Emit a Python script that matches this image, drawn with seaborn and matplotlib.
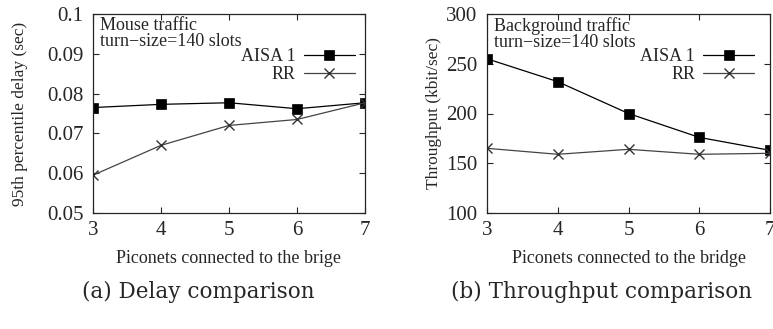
import matplotlib.pyplot as plt
import seaborn as sns

piconets = [3, 4, 5, 6, 7]
delay_aisa = [0.0765, 0.0773, 0.0777, 0.0762, 0.0777]
delay_rr = [0.0595, 0.0670, 0.0720, 0.0735, 0.0777]
thr_aisa = [255, 232, 200, 176, 163]
thr_rr = [165, 159, 164, 159, 160]
series = ['AISA 1', 'RR']

sns.set_style('ticks')
plt.rcParams['font.family'] = ['Liberation Serif', 'DejaVu Serif']
plt.rcParams['xtick.direction'] = 'in'
plt.rcParams['ytick.direction'] = 'in'

fig = plt.figure(figsize=(7.73, 3.29), dpi=100)
ax1 = fig.add_axes([93 / 773, 1 - 213 / 329, 272 / 773, 199 / 329])
ax2 = fig.add_axes([487 / 773, 1 - 213 / 329, 283 / 773, 199 / 329])

styles = {'AISA 1': dict(color='black', marker='s', markersize=7,
                         markeredgewidth=0.5, markeredgecolor='black',
                         markerfacecolor='black'),
          'RR': dict(color='#444444', marker='x', markersize=7,
                     markeredgewidth=1.0, markeredgecolor='#333333')}


def draw(ax, ys, ylim, yticks, ylabel, xlabel, note, ylab_x, leg_x):
    for name, y in zip(series, ys):
        sns.lineplot(x=piconets, y=y, label=name, linewidth=0.9, ax=ax,
                     **styles[name])
    ax.set_xlim(3, 7)
    ax.set_ylim(*ylim)
    ax.set_xticks(piconets)
    ax.set_yticks(yticks)
    ax.set_xlabel(xlabel, fontsize=13, labelpad=7)
    ax.set_ylabel(ylabel, fontsize=12.5)
    ax.yaxis.set_label_coords(ylab_x, 0.5)
    ax.tick_params(labelsize=15, top=True, right=True, length=4, width=0.8)
    ax.tick_params(axis='x', pad=6)
    ax.tick_params(axis='y', pad=7)
    for s in ax.spines.values():
        s.set_linewidth(0.9)
    ax.text(0.026, 0.985, note, transform=ax.transAxes, va='top', ha='left',
            fontsize=13, linespacing=0.9)
    ax.legend(loc='upper right', bbox_to_anchor=(leg_x, 0.875),
              frameon=False, markerfirst=False, fontsize=13,
              handlelength=2.8, handletextpad=0.45, labelspacing=0.08,
              borderaxespad=0.1)


draw(ax1, [delay_aisa, delay_rr], (0.05, 0.1),
     [0.05, 0.06, 0.07, 0.08, 0.09, 0.1],
     '95th percentile delay (sec)', 'Piconets connected to the brige',
     'Mouse traffic\nturn\u2212size=140 slots', -0.239, 0.995)
ax1.set_yticklabels(['0.05', '0.06', '0.07', '0.08', '0.09', '0.1'])
draw(ax2, [thr_aisa, thr_rr], (100, 300), [100, 150, 200, 250, 300],
     'Throughput (kbit/sec)', 'Piconets connected to the bridge',
     'Background traffic\nturn\u2212size=140 slots', -0.159, 0.975)

fig.text(198 / 773, 1 - 292 / 329, '(a) Delay comparison', ha='center',
         va='center', fontsize=15.5, family='DejaVu Serif')
fig.text(602 / 773, 1 - 292 / 329, '(b) Throughput comparison', ha='center',
         va='center', fontsize=15.5, family='DejaVu Serif')

fig.savefig('out.png', dpi=100)
